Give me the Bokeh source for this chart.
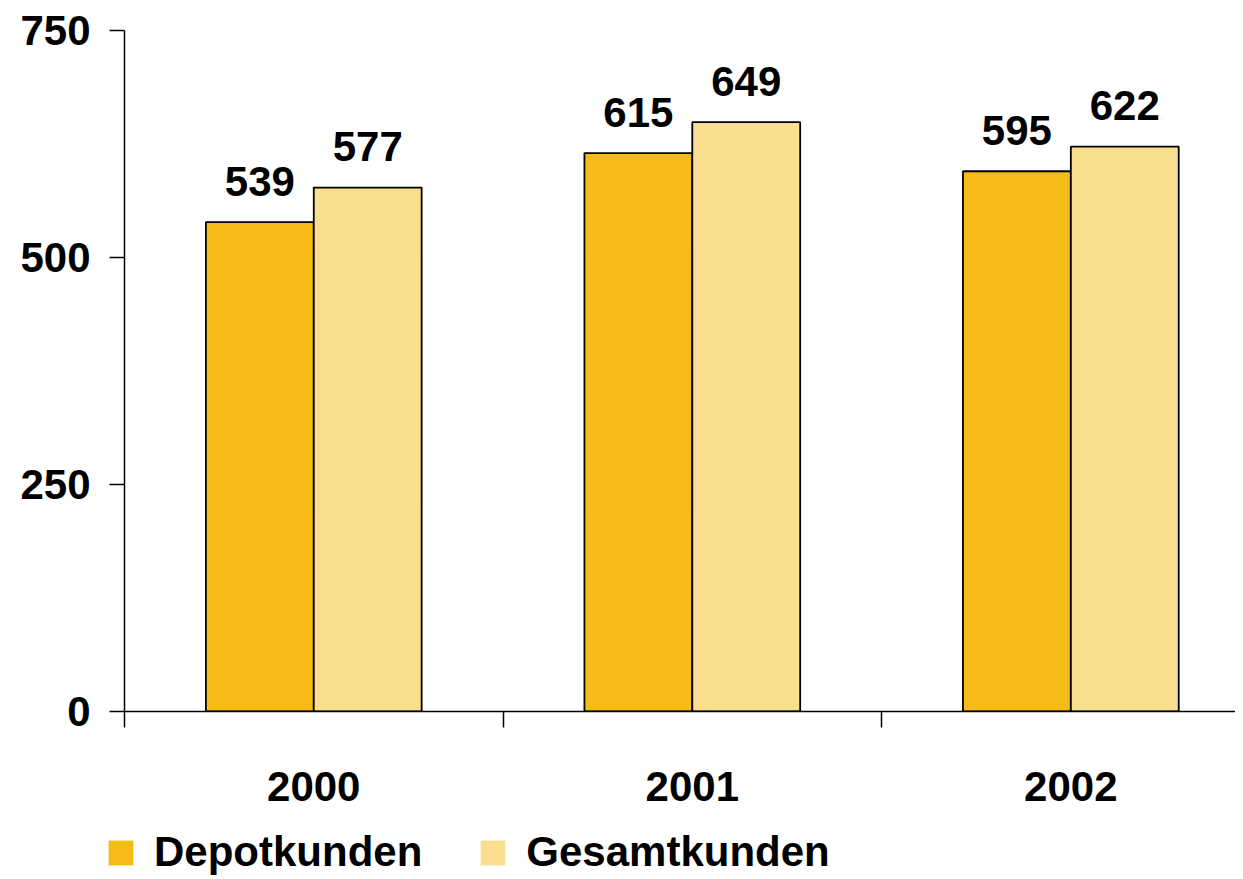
from bokeh.plotting import figure
from bokeh.models import ColumnDataSource, Range1d, FixedTicker, Legend, LegendItem
from bokeh.transform import dodge
from bokeh.core.properties import value
from bokeh.embed import file_html
from bokeh.resources import INLINE

years = ["2000", "2001", "2002"]
depotkunden = [539, 615, 595]
gesamtkunden = [577, 649, 622]
y_ticks = [0, 250, 500, 750]
series_names = ["Depotkunden", "Gesamtkunden"]

DARK = "#F5BC17"
LIGHT = "#FADE8F"
FONT = "Liberation Sans"
FS = "42px"

centers = [i + 0.5 for i in range(len(years))]
bounds = [float(i) for i in range(len(years) + 1)]

src = ColumnDataSource(dict(
    x=centers,
    depot=depotkunden,
    gesamt=gesamtkunden,
    depot_lbl=[str(v) for v in depotkunden],
    gesamt_lbl=[str(v) for v in gesamtkunden],
))

p = figure(width=1235, height=823, output_backend="svg", toolbar_location=None,
           x_range=Range1d(0, 2.935), y_range=Range1d(0, 750),
           min_border_left=124, min_border_top=30, min_border_bottom=112,
           min_border_right=0)
p.outline_line_color = None
p.xgrid.visible = False
p.ygrid.visible = False

BW = 0.285
OFF = BW / 2
p.vbar(x=dodge("x", -OFF), top="depot", width=BW, source=src,
       fill_color=DARK, line_color="black", line_width=1.8)
p.vbar(x=dodge("x", OFF), top="gesamt", width=BW, source=src,
       fill_color=LIGHT, line_color="black", line_width=1.8)

for col, ycol, off in (("depot_lbl", "depot", -OFF), ("gesamt_lbl", "gesamt", OFF)):
    p.text(x=dodge("x", off), y=ycol, text=col, source=src,
           text_align="center", text_baseline="alphabetic", y_offset=-41,
           text_font=value(FONT), text_font_style="bold",
           text_font_size=FS, text_color="black")

# y axis
ya = p.yaxis[0]
ya.ticker = FixedTicker(ticks=y_ticks)
ya.minor_tick_line_color = None
ya.major_tick_in = 0
ya.major_tick_out = 15
ya.major_label_standoff = 19
ya.major_label_text_font = FONT
ya.major_label_text_font_style = "bold"
ya.major_label_text_font_size = FS
ya.major_label_text_color = "black"
ya.axis_line_color = "black"
ya.axis_line_width = 1.5
ya.major_tick_line_color = "black"
ya.major_tick_line_width = 1.5

# x axis
xa = p.xaxis[0]
xa.ticker = FixedTicker(ticks=centers, minor_ticks=bounds)
xa.major_label_overrides = {c: y for c, y in zip(centers, years)}
xa.major_tick_in = 0
xa.major_tick_out = 0
xa.minor_tick_in = 0
xa.minor_tick_out = 16
xa.minor_tick_line_color = "black"
xa.minor_tick_line_width = 1.5
xa.major_label_standoff = 44
xa.major_label_text_font = FONT
xa.major_label_text_font_style = "bold"
xa.major_label_text_font_size = FS
xa.major_label_text_color = "black"
xa.axis_line_color = "black"
xa.axis_line_width = 1.5

# legend in its own strip below the chart (separate root, no frame alignment)
lf = figure(width=1235, height=56, output_backend="svg", toolbar_location=None,
            x_range=Range1d(0, 1), y_range=Range1d(0, 1),
            min_border=0, min_border_left=0, min_border_right=0,
            min_border_top=0, min_border_bottom=0)
lf.axis.visible = False
lf.grid.visible = False
lf.outline_line_color = None
e1 = lf.vbar(x="x", top="depot", width=BW, source=src,
             fill_color=DARK, line_color=None, visible=False)
e2 = lf.vbar(x="x", top="gesamt", width=BW, source=src,
             fill_color=LIGHT, line_color=None, visible=False)
legend = Legend(items=[LegendItem(label=series_names[0], renderers=[e1]),
                       LegendItem(label=series_names[1], renderers=[e2])],
                orientation="horizontal", location=(105, 3),
                glyph_width=31, glyph_height=31, label_standoff=18, spacing=55,
                padding=0, margin=0, border_line_color=None,
                background_fill_alpha=0, inactive_fill_alpha=0,
                label_text_font=FONT, label_text_font_style="bold",
                label_text_font_size=FS, label_text_color="black")
lf.add_layout(legend, "center")

open("out.html", "w").write(file_html([p, lf], INLINE))
